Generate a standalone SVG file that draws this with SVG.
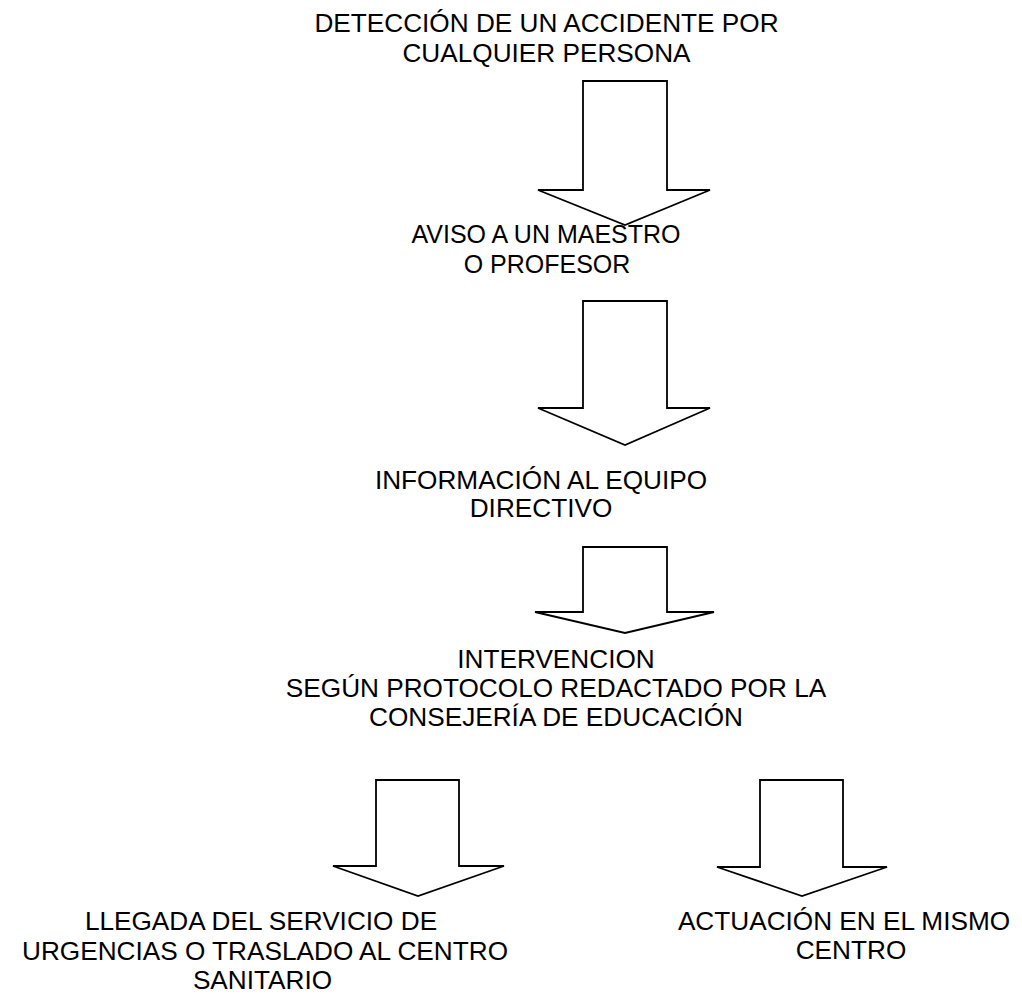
<svg xmlns="http://www.w3.org/2000/svg" width="1022" height="994" viewBox="0 0 1022 994">
<style>
.arrow{fill:#ffffff;stroke:#000000;stroke-width:1.8;stroke-linejoin:miter}
.lbl{font-family:"Liberation Sans",Arial,sans-serif;font-size:26.2px;fill:#000000;text-anchor:middle}
.sm{font-size:25px}
</style>
<rect x="0" y="0" width="1022" height="994" fill="#ffffff"/>
<g id="connectors">
<polygon class="arrow" points="583,81 667,81 667,190 710,190 625,225 538,190 583,190"/>
<polygon class="arrow" points="583,301 667,301 667,408 710,408 625,445 538,408 583,408"/>
<polygon class="arrow" points="583,547 667,547 667,612 714,612 625,633 535,612 583,612"/>
<polygon class="arrow" points="376,780 459,780 459,866 504,866 418,896 333,866 376,866"/>
<polygon class="arrow" points="760,780 843,780 843,867 887,867 802,896 717,867 760,867"/>
</g>
<g id="node-deteccion">
<text class="lbl" x="546.5" y="32">DETECCIÓN DE UN ACCIDENTE POR</text>
<text class="lbl" x="546.5" y="61.5">CUALQUIER PERSONA</text>
</g>
<g id="node-aviso">
<text class="lbl sm" x="546" y="243">AVISO A UN MAESTRO</text>
<text class="lbl sm" x="547" y="272.5">O PROFESOR</text>
</g>
<g id="node-informacion">
<text class="lbl" x="541" y="489">INFORMACIÓN AL EQUIPO</text>
<text class="lbl" x="541" y="517">DIRECTIVO</text>
</g>
<g id="node-intervencion">
<text class="lbl" x="556" y="668">INTERVENCION</text>
<text class="lbl" x="556" y="697">SEGÚN PROTOCOLO REDACTADO POR LA</text>
<text class="lbl" x="556" y="726">CONSEJERÍA DE EDUCACIÓN</text>
</g>
<g id="node-llegada">
<text class="lbl" x="261" y="930">LLEGADA DEL SERVICIO DE</text>
<text class="lbl" x="265" y="959.5">URGENCIAS O TRASLADO AL CENTRO</text>
<text class="lbl" x="262.5" y="989">SANITARIO</text>
</g>
<g id="node-actuacion">
<text class="lbl" x="844" y="930">ACTUACIÓN EN EL MISMO</text>
<text class="lbl" x="851" y="958.5">CENTRO</text>
</g>
</svg>
